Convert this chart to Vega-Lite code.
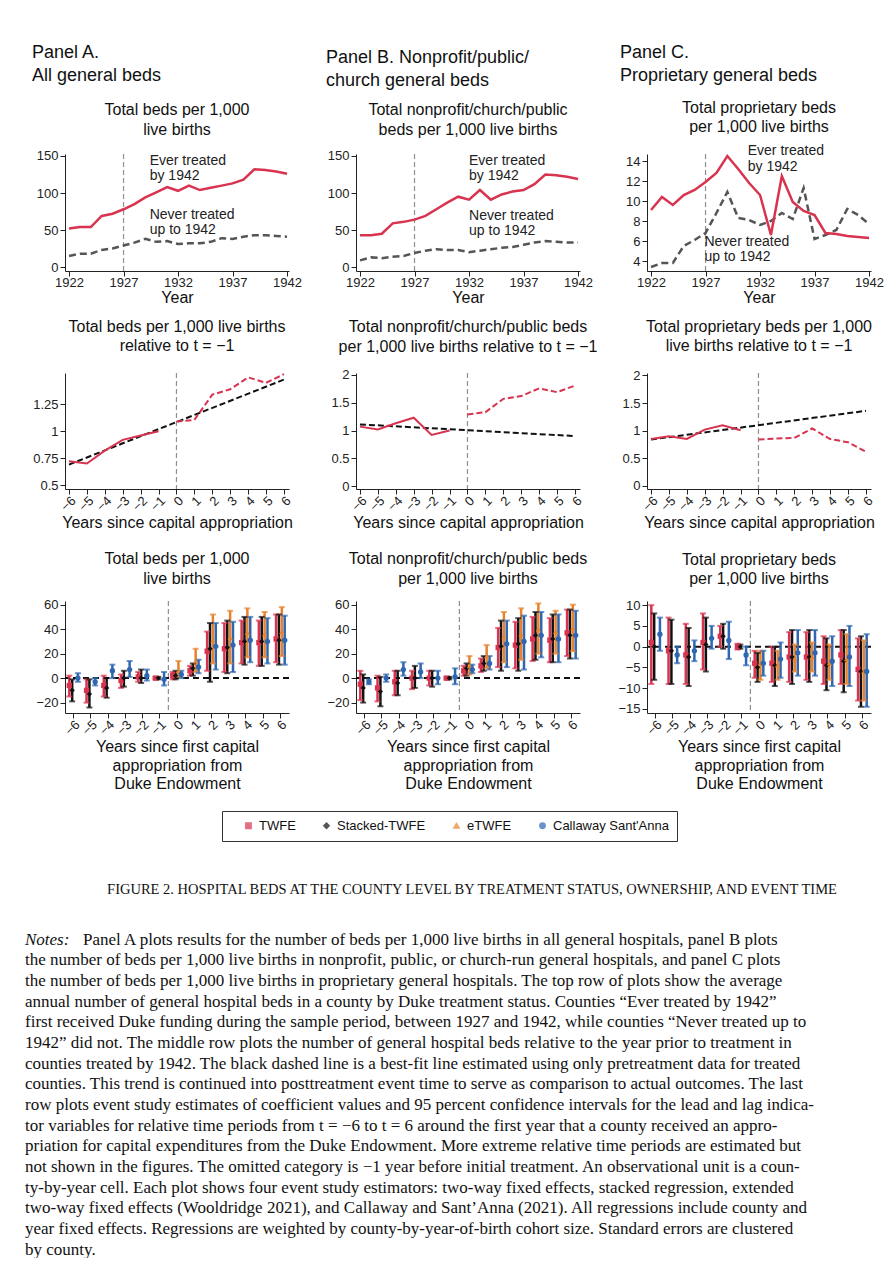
{
 "$schema": "https://vega.github.io/schema/vega-lite/v6.json",
 "background": "white",
 "padding": {"left": 25, "top": 44, "right": 0, "bottom": 0},
 "config": {
  "font": "Liberation Sans",
  "view": {"stroke": null},
  "axis": {"grid": false, "domainColor": "#222", "tickColor": "#222", "tickSize": 5, "labelFontSize": 13, "labelColor": "#222", "labelPadding": 0, "titleFontSize": 16, "titleFontWeight": "normal", "titleColor": "#111", "labelOverlap": false, "titlePadding": 0},
  "axisY": {"minExtent": 40, "maxExtent": 40, "labelPadding": 2},
  "title": {"fontSize": 16, "fontWeight": "normal", "color": "#111", "lineHeight": 19.5, "frame": "group"}
 },
 "datasets": {
  "hdr": [
   {"p": "A", "text": ["Panel A.", "All general beds"]},
   {"p": "B", "text": ["Panel B. Nonprofit/public/", "church general beds"]},
   {"p": "C", "text": ["Panel C.", "Proprietary general beds"]}
  ],
  "top": [
   {"p":"A","year":1922,"ever":52,"never":15},{"p":"A","year":1923,"ever":54,"never":18},{"p":"A","year":1924,"ever":54,"never":18},{"p":"A","year":1925,"ever":69,"never":23},{"p":"A","year":1926,"ever":72,"never":25},{"p":"A","year":1927,"ever":78,"never":29},{"p":"A","year":1928,"ever":85,"never":33},{"p":"A","year":1929,"ever":94,"never":38},{"p":"A","year":1930,"ever":101,"never":34},{"p":"A","year":1931,"ever":108,"never":35},{"p":"A","year":1932,"ever":103,"never":31},{"p":"A","year":1933,"ever":110,"never":32},{"p":"A","year":1934,"ever":104,"never":32},{"p":"A","year":1935,"ever":107,"never":34},{"p":"A","year":1936,"ever":110,"never":39},{"p":"A","year":1937,"ever":113,"never":38},{"p":"A","year":1938,"ever":118,"never":41},{"p":"A","year":1939,"ever":132,"never":43},{"p":"A","year":1940,"ever":131,"never":43},{"p":"A","year":1941,"ever":129,"never":42},{"p":"A","year":1942,"ever":126,"never":41},
   {"p":"B","year":1922,"ever":43,"never":9},{"p":"B","year":1923,"ever":43,"never":13},{"p":"B","year":1924,"ever":45,"never":12},{"p":"B","year":1925,"ever":59,"never":14},{"p":"B","year":1926,"ever":61,"never":15},{"p":"B","year":1927,"ever":64,"never":19},{"p":"B","year":1928,"ever":69,"never":22},{"p":"B","year":1929,"ever":78,"never":24},{"p":"B","year":1930,"ever":87,"never":23},{"p":"B","year":1931,"ever":95,"never":23},{"p":"B","year":1932,"ever":91,"never":20},{"p":"B","year":1933,"ever":104,"never":22},{"p":"B","year":1934,"ever":91,"never":24},{"p":"B","year":1935,"ever":98,"never":26},{"p":"B","year":1936,"ever":102,"never":27},{"p":"B","year":1937,"ever":104,"never":30},{"p":"B","year":1938,"ever":112,"never":33},{"p":"B","year":1939,"ever":125,"never":35},{"p":"B","year":1940,"ever":124,"never":34},{"p":"B","year":1941,"ever":122,"never":33},{"p":"B","year":1942,"ever":119,"never":33},
   {"p":"C","year":1922,"ever":9.1,"never":3.4},{"p":"C","year":1923,"ever":10.4,"never":3.8},{"p":"C","year":1924,"ever":9.6,"never":3.8},{"p":"C","year":1925,"ever":10.6,"never":5.5},{"p":"C","year":1926,"ever":11.1,"never":6.1},{"p":"C","year":1927,"ever":11.9,"never":6.8},{"p":"C","year":1928,"ever":12.8,"never":8.8},{"p":"C","year":1929,"ever":14.5,"never":10.9},{"p":"C","year":1930,"ever":13.2,"never":8.3},{"p":"C","year":1931,"ever":11.8,"never":8.1},{"p":"C","year":1932,"ever":10.6,"never":7.6},{"p":"C","year":1933,"ever":6.6,"never":8.0},{"p":"C","year":1934,"ever":12.5,"never":8.8},{"p":"C","year":1935,"ever":9.9,"never":8.2},{"p":"C","year":1936,"ever":9.0,"never":11.3},{"p":"C","year":1937,"ever":8.6,"never":6.2},{"p":"C","year":1938,"ever":6.8,"never":6.6},{"p":"C","year":1939,"ever":6.7,"never":7.1},{"p":"C","year":1940,"ever":6.5,"never":9.2},{"p":"C","year":1941,"ever":6.4,"never":8.6},{"p":"C","year":1942,"ever":6.3,"never":7.7}
  ],
  "rel": [
   {"p":"A","t":-6,"v":0.72},{"p":"A","t":-5,"v":0.70},{"p":"A","t":-4,"v":0.82},{"p":"A","t":-3,"v":0.92},{"p":"A","t":-2,"v":0.96},{"p":"A","t":-1,"v":1.0},{"p":"A","t":0,"v":1.09},{"p":"A","t":1,"v":1.105},{"p":"A","t":2,"v":1.34},{"p":"A","t":3,"v":1.39},{"p":"A","t":4,"v":1.50},{"p":"A","t":5,"v":1.45},{"p":"A","t":6,"v":1.53},
   {"p":"B","t":-6,"v":1.07},{"p":"B","t":-5,"v":1.02},{"p":"B","t":-4,"v":1.13},{"p":"B","t":-3,"v":1.23},{"p":"B","t":-2,"v":0.92},{"p":"B","t":-1,"v":1.0},{"p":"B","t":0,"v":1.29},{"p":"B","t":1,"v":1.33},{"p":"B","t":2,"v":1.57},{"p":"B","t":3,"v":1.62},{"p":"B","t":4,"v":1.76},{"p":"B","t":5,"v":1.69},{"p":"B","t":6,"v":1.81},
   {"p":"C","t":-6,"v":0.85},{"p":"C","t":-5,"v":0.90},{"p":"C","t":-4,"v":0.85},{"p":"C","t":-3,"v":1.02},{"p":"C","t":-2,"v":1.10},{"p":"C","t":-1,"v":1.01},{"p":"C","t":0,"v":0.84},{"p":"C","t":1,"v":0.86},{"p":"C","t":2,"v":0.87},{"p":"C","t":3,"v":1.04},{"p":"C","t":4,"v":0.85},{"p":"C","t":5,"v":0.79},{"p":"C","t":6,"v":0.62}
  ],
  "fit": [
   {"p":"A","t":-6,"v":0.69},{"p":"A","t":6,"v":1.48},
   {"p":"B","t":-6,"v":1.11},{"p":"B","t":6,"v":0.90},
   {"p":"C","t":-6,"v":0.84},{"p":"C","t":6,"v":1.36}
  ],
  "es": [
   {"p":"A","t":-6,"e":"TWFE","b":-6,"lo":-15,"hi":2},{"p":"A","t":-6,"e":"Stacked-TWFE","b":-10,"lo":-19,"hi":-1},{"p":"A","t":-6,"e":"Callaway Sant'Anna","b":0,"lo":-3,"hi":4},
   {"p":"A","t":-5,"e":"TWFE","b":-10,"lo":-20,"hi":-1},{"p":"A","t":-5,"e":"Stacked-TWFE","b":-13,"lo":-24,"hi":-1},{"p":"A","t":-5,"e":"Callaway Sant'Anna","b":-3,"lo":-6,"hi":0},
   {"p":"A","t":-4,"e":"TWFE","b":-6,"lo":-15,"hi":2},{"p":"A","t":-4,"e":"Stacked-TWFE","b":-8,"lo":-16,"hi":0},{"p":"A","t":-4,"e":"Callaway Sant'Anna","b":6,"lo":0,"hi":11},
   {"p":"A","t":-3,"e":"TWFE","b":-2,"lo":-8,"hi":3},{"p":"A","t":-3,"e":"Stacked-TWFE","b":0,"lo":-7,"hi":6},{"p":"A","t":-3,"e":"Callaway Sant'Anna","b":7,"lo":1,"hi":14},
   {"p":"A","t":-2,"e":"TWFE","b":1,"lo":-3,"hi":5},{"p":"A","t":-2,"e":"Stacked-TWFE","b":0,"lo":-4,"hi":7},{"p":"A","t":-2,"e":"Callaway Sant'Anna","b":2,"lo":-2,"hi":7},
   {"p":"A","t":-1,"e":"TWFE","b":0,"lo":-1,"hi":1},{"p":"A","t":-1,"e":"Stacked-TWFE","b":0,"lo":-1,"hi":1},{"p":"A","t":-1,"e":"Callaway Sant'Anna","b":-1,"lo":-6,"hi":5},
   {"p":"A","t":0,"e":"TWFE","b":2,"lo":-1,"hi":5},{"p":"A","t":0,"e":"Stacked-TWFE","b":2,"lo":-1,"hi":6},{"p":"A","t":0,"e":"eTWFE","b":6,"lo":1,"hi":14},{"p":"A","t":0,"e":"Callaway Sant'Anna","b":3,"lo":0,"hi":6},
   {"p":"A","t":1,"e":"TWFE","b":6,"lo":2,"hi":10},{"p":"A","t":1,"e":"Stacked-TWFE","b":8,"lo":2,"hi":12},{"p":"A","t":1,"e":"eTWFE","b":14,"lo":5,"hi":24},{"p":"A","t":1,"e":"Callaway Sant'Anna","b":9,"lo":4,"hi":15},
   {"p":"A","t":2,"e":"TWFE","b":22,"lo":6,"hi":38},{"p":"A","t":2,"e":"Stacked-TWFE","b":24,"lo":-3,"hi":45},{"p":"A","t":2,"e":"eTWFE","b":31,"lo":12,"hi":52},{"p":"A","t":2,"e":"Callaway Sant'Anna","b":26,"lo":7,"hi":45},
   {"p":"A","t":3,"e":"TWFE","b":24,"lo":5,"hi":45},{"p":"A","t":3,"e":"Stacked-TWFE","b":25,"lo":4,"hi":47},{"p":"A","t":3,"e":"eTWFE","b":33,"lo":12,"hi":55},{"p":"A","t":3,"e":"Callaway Sant'Anna","b":27,"lo":5,"hi":46},
   {"p":"A","t":4,"e":"TWFE","b":29,"lo":12,"hi":47},{"p":"A","t":4,"e":"Stacked-TWFE","b":30,"lo":11,"hi":50},{"p":"A","t":4,"e":"eTWFE","b":37,"lo":17,"hi":57},{"p":"A","t":4,"e":"Callaway Sant'Anna","b":31,"lo":13,"hi":50},
   {"p":"A","t":5,"e":"TWFE","b":29,"lo":10,"hi":47},{"p":"A","t":5,"e":"Stacked-TWFE","b":30,"lo":10,"hi":50},{"p":"A","t":5,"e":"eTWFE","b":36,"lo":17,"hi":54},{"p":"A","t":5,"e":"Callaway Sant'Anna","b":30,"lo":12,"hi":49},
   {"p":"A","t":6,"e":"TWFE","b":32,"lo":13,"hi":52},{"p":"A","t":6,"e":"Stacked-TWFE","b":31,"lo":11,"hi":52},{"p":"A","t":6,"e":"eTWFE","b":38,"lo":18,"hi":58},{"p":"A","t":6,"e":"Callaway Sant'Anna","b":31,"lo":11,"hi":51},
   {"p":"B","t":-6,"e":"TWFE","b":-5,"lo":-18,"hi":6},{"p":"B","t":-6,"e":"Stacked-TWFE","b":-8,"lo":-20,"hi":3},{"p":"B","t":-6,"e":"Callaway Sant'Anna","b":-3,"lo":-5,"hi":-1},
   {"p":"B","t":-5,"e":"TWFE","b":-8,"lo":-19,"hi":2},{"p":"B","t":-5,"e":"Stacked-TWFE","b":-11,"lo":-23,"hi":1},{"p":"B","t":-5,"e":"Callaway Sant'Anna","b":0,"lo":-3,"hi":3},
   {"p":"B","t":-4,"e":"TWFE","b":-3,"lo":-14,"hi":6},{"p":"B","t":-4,"e":"Stacked-TWFE","b":-4,"lo":-14,"hi":6},{"p":"B","t":-4,"e":"Callaway Sant'Anna","b":7,"lo":2,"hi":13},
   {"p":"B","t":-3,"e":"TWFE","b":0,"lo":-9,"hi":6},{"p":"B","t":-3,"e":"Stacked-TWFE","b":0,"lo":-8,"hi":10},{"p":"B","t":-3,"e":"Callaway Sant'Anna","b":5,"lo":0,"hi":12},
   {"p":"B","t":-2,"e":"TWFE","b":0,"lo":-6,"hi":6},{"p":"B","t":-2,"e":"Stacked-TWFE","b":0,"lo":-7,"hi":6},{"p":"B","t":-2,"e":"Callaway Sant'Anna","b":0,"lo":-5,"hi":6},
   {"p":"B","t":-1,"e":"TWFE","b":0,"lo":-1,"hi":1},{"p":"B","t":-1,"e":"Stacked-TWFE","b":0,"lo":-1,"hi":1},{"p":"B","t":-1,"e":"Callaway Sant'Anna","b":1,"lo":-5,"hi":8},
   {"p":"B","t":0,"e":"TWFE","b":6,"lo":2,"hi":10},{"p":"B","t":0,"e":"Stacked-TWFE","b":8,"lo":2,"hi":12},{"p":"B","t":0,"e":"eTWFE","b":10,"lo":3,"hi":18},{"p":"B","t":0,"e":"Callaway Sant'Anna","b":7,"lo":4,"hi":11},
   {"p":"B","t":1,"e":"TWFE","b":10,"lo":5,"hi":16},{"p":"B","t":1,"e":"Stacked-TWFE","b":12,"lo":6,"hi":18},{"p":"B","t":1,"e":"eTWFE","b":18,"lo":8,"hi":27},{"p":"B","t":1,"e":"Callaway Sant'Anna","b":12,"lo":7,"hi":18},
   {"p":"B","t":2,"e":"TWFE","b":25,"lo":9,"hi":41},{"p":"B","t":2,"e":"Stacked-TWFE","b":26,"lo":6,"hi":47},{"p":"B","t":2,"e":"eTWFE","b":34,"lo":13,"hi":54},{"p":"B","t":2,"e":"Callaway Sant'Anna","b":28,"lo":9,"hi":47},
   {"p":"B","t":3,"e":"TWFE","b":27,"lo":8,"hi":46},{"p":"B","t":3,"e":"Stacked-TWFE","b":28,"lo":6,"hi":49},{"p":"B","t":3,"e":"eTWFE","b":36,"lo":15,"hi":57},{"p":"B","t":3,"e":"Callaway Sant'Anna","b":30,"lo":7,"hi":51},
   {"p":"B","t":4,"e":"TWFE","b":32,"lo":14,"hi":50},{"p":"B","t":4,"e":"Stacked-TWFE","b":35,"lo":15,"hi":54},{"p":"B","t":4,"e":"eTWFE","b":40,"lo":20,"hi":61},{"p":"B","t":4,"e":"Callaway Sant'Anna","b":35,"lo":17,"hi":54},
   {"p":"B","t":5,"e":"TWFE","b":31,"lo":13,"hi":49},{"p":"B","t":5,"e":"Stacked-TWFE","b":32,"lo":13,"hi":52},{"p":"B","t":5,"e":"eTWFE","b":38,"lo":20,"hi":55},{"p":"B","t":5,"e":"Callaway Sant'Anna","b":32,"lo":13,"hi":52},
   {"p":"B","t":6,"e":"TWFE","b":37,"lo":18,"hi":56},{"p":"B","t":6,"e":"Stacked-TWFE","b":35,"lo":16,"hi":56},{"p":"B","t":6,"e":"eTWFE","b":41,"lo":22,"hi":60},{"p":"B","t":6,"e":"Callaway Sant'Anna","b":35,"lo":16,"hi":55},
   {"p":"C","t":-6,"e":"TWFE","b":1,"lo":-9,"hi":10},{"p":"C","t":-6,"e":"Stacked-TWFE","b":0,"lo":-8,"hi":8},{"p":"C","t":-6,"e":"Callaway Sant'Anna","b":3,"lo":-1,"hi":7},
   {"p":"C","t":-5,"e":"TWFE","b":-1,"lo":-9,"hi":7},{"p":"C","t":-5,"e":"Stacked-TWFE","b":-1,"lo":-9,"hi":6.5},{"p":"C","t":-5,"e":"Callaway Sant'Anna","b":-2,"lo":-4,"hi":0},
   {"p":"C","t":-4,"e":"TWFE","b":-2,"lo":-9,"hi":5.5},{"p":"C","t":-4,"e":"Stacked-TWFE","b":-2.5,"lo":-9.5,"hi":4.5},{"p":"C","t":-4,"e":"Callaway Sant'Anna","b":-1,"lo":-3.5,"hi":1.5},
   {"p":"C","t":-3,"e":"TWFE","b":1,"lo":-5.5,"hi":8},{"p":"C","t":-3,"e":"Stacked-TWFE","b":0.5,"lo":-6,"hi":7},{"p":"C","t":-3,"e":"Callaway Sant'Anna","b":2,"lo":-0.5,"hi":5},
   {"p":"C","t":-2,"e":"TWFE","b":2.5,"lo":0,"hi":5},{"p":"C","t":-2,"e":"Stacked-TWFE","b":2.5,"lo":-0.5,"hi":5.5},{"p":"C","t":-2,"e":"Callaway Sant'Anna","b":1.5,"lo":-3,"hi":6},
   {"p":"C","t":-1,"e":"TWFE","b":0,"lo":-0.7,"hi":0.7},{"p":"C","t":-1,"e":"Stacked-TWFE","b":0,"lo":-0.5,"hi":0.5},{"p":"C","t":-1,"e":"Callaway Sant'Anna","b":-2,"lo":-4.5,"hi":0},
   {"p":"C","t":0,"e":"TWFE","b":-4,"lo":-7.5,"hi":-1},{"p":"C","t":0,"e":"Stacked-TWFE","b":-5,"lo":-8.5,"hi":-1.5},{"p":"C","t":0,"e":"eTWFE","b":-4,"lo":-8,"hi":-1},{"p":"C","t":0,"e":"Callaway Sant'Anna","b":-4,"lo":-7,"hi":-1},
   {"p":"C","t":1,"e":"TWFE","b":-4,"lo":-8.5,"hi":0},{"p":"C","t":1,"e":"Stacked-TWFE","b":-4.5,"lo":-9.5,"hi":0},{"p":"C","t":1,"e":"eTWFE","b":-4.5,"lo":-8,"hi":-1},{"p":"C","t":1,"e":"Callaway Sant'Anna","b":-3,"lo":-7.5,"hi":1},
   {"p":"C","t":2,"e":"TWFE","b":-2.5,"lo":-8.5,"hi":3.5},{"p":"C","t":2,"e":"Stacked-TWFE","b":-2.5,"lo":-9,"hi":4},{"p":"C","t":2,"e":"eTWFE","b":-3,"lo":-6,"hi":0.5},{"p":"C","t":2,"e":"Callaway Sant'Anna","b":-1.5,"lo":-7,"hi":4},
   {"p":"C","t":3,"e":"TWFE","b":-2.5,"lo":-8,"hi":3.5},{"p":"C","t":3,"e":"Stacked-TWFE","b":-2.5,"lo":-8.5,"hi":4},{"p":"C","t":3,"e":"eTWFE","b":-2.5,"lo":-6,"hi":1},{"p":"C","t":3,"e":"Callaway Sant'Anna","b":-1.5,"lo":-7,"hi":4},
   {"p":"C","t":4,"e":"TWFE","b":-3.5,"lo":-9,"hi":2.5},{"p":"C","t":4,"e":"Stacked-TWFE","b":-4.5,"lo":-10.5,"hi":2},{"p":"C","t":4,"e":"eTWFE","b":-4,"lo":-8,"hi":0.5},{"p":"C","t":4,"e":"Callaway Sant'Anna","b":-3.5,"lo":-9.5,"hi":2.5},
   {"p":"C","t":5,"e":"TWFE","b":-2,"lo":-9,"hi":4},{"p":"C","t":5,"e":"Stacked-TWFE","b":-3.5,"lo":-11,"hi":4},{"p":"C","t":5,"e":"eTWFE","b":-3,"lo":-9,"hi":3},{"p":"C","t":5,"e":"Callaway Sant'Anna","b":-2.5,"lo":-9.5,"hi":5},
   {"p":"C","t":6,"e":"TWFE","b":-5.5,"lo":-13,"hi":2},{"p":"C","t":6,"e":"Stacked-TWFE","b":-6,"lo":-14.5,"hi":2.5},{"p":"C","t":6,"e":"eTWFE","b":-6,"lo":-13,"hi":1.5},{"p":"C","t":6,"e":"Callaway Sant'Anna","b":-6,"lo":-14.5,"hi":3}
  ],
  "notes": [
   {"line": 1, "text": "Panel A plots results for the number of beds per 1,000 live births in all general hospitals, panel B plots"},
   {"line": 2, "text": "the number of beds per 1,000 live births in nonprofit, public, or church-run general hospitals, and panel C plots"},
   {"line": 3, "text": "the number of beds per 1,000 live births in proprietary general hospitals. The top row of plots show the average"},
   {"line": 4, "text": "annual number of general hospital beds in a county by Duke treatment status. Counties “Ever treated by 1942”"},
   {"line": 5, "text": "first received Duke funding during the sample period, between 1927 and 1942, while counties “Never treated up to"},
   {"line": 6, "text": "1942” did not. The middle row plots the number of general hospital beds relative to the year prior to treatment in"},
   {"line": 7, "text": "counties treated by 1942. The black dashed line is a best-fit line estimated using only pretreatment data for treated"},
   {"line": 8, "text": "counties. This trend is continued into posttreatment event time to serve as comparison to actual outcomes. The last"},
   {"line": 9, "text": "row plots event study estimates of coefficient values and 95 percent confidence intervals for the lead and lag indica-"},
   {"line": 10, "text": "tor variables for relative time periods from t = −6 to t = 6 around the first year that a county received an appro-"},
   {"line": 11, "text": "priation for capital expenditures from the Duke Endowment. More extreme relative time periods are estimated but"},
   {"line": 12, "text": "not shown in the figures. The omitted category is −1 year before initial treatment. An observational unit is a coun-"},
   {"line": 13, "text": "ty-by-year cell. Each plot shows four event study estimators: two-way fixed effects, stacked regression, extended"},
   {"line": 14, "text": "two-way fixed effects (Wooldridge 2021), and Callaway and Sant’Anna (2021). All regressions include county and"},
   {"line": 15, "text": "year fixed effects. Regressions are weighted by county-by-year-of-birth cohort size. Standard errors are clustered"},
   {"line": 16, "text": "by county."}
  ]
 },
 "spacing": 9,
 "vconcat": [
  {
   "width": 882, "height": 30,
   "data": {"name": "hdr"},
   "encoding": {
    "x": {"field": "p", "type": "nominal", "scale": {"type": "band", "domain": ["A", "B", "C"], "paddingInner": 0, "paddingOuter": 0}, "axis": null, "bandPosition": 0},
    "y": {"datum": 0, "type": "quantitative", "scale": {"domain": [0, 1], "reverse": true}, "axis": null},
    "text": {"field": "text"}
   },
   "layer": [
    {"transform": [{"filter": "datum.p !== 'B'"}], "mark": {"type": "text", "align": "left", "baseline": "top", "fontSize": 18, "lineHeight": 23, "dx": -33, "color": "#111"}},
    {"transform": [{"filter": "datum.p === 'B'"}], "mark": {"type": "text", "align": "left", "baseline": "top", "fontSize": 18, "lineHeight": 23, "dx": -33, "dy": 5, "color": "#111"}}
   ]
  },
  {
   "columns": 3,
   "bounds": "flush",
   "spacing": {"row": 102, "column": 67},
   "concat": [
    {
     "width": 224, "height": 117,
     "title": {"text": ["Total beds per 1,000", "live births"], "offset": 12},
     "layer": [
      {"data": {"values": [{"year": 1927}]}, "mark": {"type": "rule", "color": "#8f8f8f", "strokeDash": [5, 3], "strokeWidth": 1.2},
       "encoding": {"x": {"field": "year", "type": "quantitative", "scale": {"domain": [1921.63, 1942.18], "nice": false, "zero": false}, "axis": {"values": [1922, 1927, 1932, 1937, 1942], "tickCount": 20, "format": "d", "title": "Year", "labelFlush": false}}}},
      {"data": {"name": "top"}, "transform": [{"filter": "datum.p === 'A'"}], "mark": {"type": "line", "color": "#555555", "strokeWidth": 2.5, "strokeDash": [7, 4]},
       "encoding": {"x": {"field": "year", "type": "quantitative"}, "y": {"field": "never", "type": "quantitative", "scale": {"domain": [-5.4, 152.7], "nice": false, "zero": false}, "axis": {"values": [0, 50, 100, 150], "tickCount": 20, "format": "d", "title": null}}}},
      {"data": {"name": "top"}, "transform": [{"filter": "datum.p === 'A'"}], "mark": {"type": "line", "color": "#d8334f", "strokeWidth": 2.5},
       "encoding": {"x": {"field": "year", "type": "quantitative"}, "y": {"field": "ever", "type": "quantitative", "title": null}}},
      {"data": {"values": [{"label": ["Ever treated", "by 1942"]}]}, "mark": {"type": "text", "align": "left", "baseline": "top", "fontSize": 14, "lineHeight": 15.5, "color": "#222"},
       "encoding": {"x": {"datum": 1929.4, "type": "quantitative"}, "y": {"datum": 153, "type": "quantitative"}, "text": {"field": "label"}}},
      {"data": {"values": [{"label": ["Never treated", "up to 1942"]}]}, "mark": {"type": "text", "align": "left", "baseline": "top", "fontSize": 14, "lineHeight": 15.5, "color": "#222"},
       "encoding": {"x": {"datum": 1929.4, "type": "quantitative"}, "y": {"datum": 80, "type": "quantitative"}, "text": {"field": "label"}}}
     ]
    },
    {
     "width": 224, "height": 117,
     "title": {"text": ["Total nonprofit/church/public", "beds per 1,000 live births"], "offset": 12},
     "layer": [
      {"data": {"values": [{"year": 1927}]}, "mark": {"type": "rule", "color": "#8f8f8f", "strokeDash": [5, 3], "strokeWidth": 1.2},
       "encoding": {"x": {"field": "year", "type": "quantitative", "scale": {"domain": [1921.63, 1942.18], "nice": false, "zero": false}, "axis": {"values": [1922, 1927, 1932, 1937, 1942], "tickCount": 20, "format": "d", "title": "Year", "labelFlush": false}}}},
      {"data": {"name": "top"}, "transform": [{"filter": "datum.p === 'B'"}], "mark": {"type": "line", "color": "#555555", "strokeWidth": 2.5, "strokeDash": [7, 4]},
       "encoding": {"x": {"field": "year", "type": "quantitative"}, "y": {"field": "never", "type": "quantitative", "scale": {"domain": [-5.4, 152.7], "nice": false, "zero": false}, "axis": {"values": [0, 50, 100, 150], "tickCount": 20, "format": "d", "title": null}}}},
      {"data": {"name": "top"}, "transform": [{"filter": "datum.p === 'B'"}], "mark": {"type": "line", "color": "#d8334f", "strokeWidth": 2.5},
       "encoding": {"x": {"field": "year", "type": "quantitative"}, "y": {"field": "ever", "type": "quantitative", "title": null}}},
      {"data": {"values": [{"label": ["Ever treated", "by 1942"]}]}, "mark": {"type": "text", "align": "left", "baseline": "top", "fontSize": 14, "lineHeight": 15.5, "color": "#222"},
       "encoding": {"x": {"datum": 1932.0, "type": "quantitative"}, "y": {"datum": 153, "type": "quantitative"}, "text": {"field": "label"}}},
      {"data": {"values": [{"label": ["Never treated", "up to 1942"]}]}, "mark": {"type": "text", "align": "left", "baseline": "top", "fontSize": 14, "lineHeight": 15.5, "color": "#222"},
       "encoding": {"x": {"datum": 1932.0, "type": "quantitative"}, "y": {"datum": 78.7, "type": "quantitative"}, "text": {"field": "label"}}}
     ]
    },
    {
     "width": 224, "height": 117,
     "title": {"text": ["Total proprietary beds", "per 1,000 live births"], "offset": 9},
     "layer": [
      {"data": {"values": [{"year": 1927}]}, "mark": {"type": "rule", "color": "#8f8f8f", "strokeDash": [5, 3], "strokeWidth": 1.2},
       "encoding": {"x": {"field": "year", "type": "quantitative", "scale": {"domain": [1921.63, 1942.18], "nice": false, "zero": false}, "axis": {"values": [1922, 1927, 1932, 1937, 1942], "tickCount": 20, "format": "d", "title": "Year", "labelFlush": false}}}},
      {"data": {"name": "top"}, "transform": [{"filter": "datum.p === 'C'"}], "mark": {"type": "line", "color": "#555555", "strokeWidth": 2.5, "strokeDash": [7, 4]},
       "encoding": {"x": {"field": "year", "type": "quantitative"}, "y": {"field": "never", "type": "quantitative", "scale": {"domain": [3.0, 14.7], "nice": false, "zero": false}, "axis": {"values": [4, 6, 8, 10, 12, 14], "tickCount": 20, "format": "d", "title": null}}}},
      {"data": {"name": "top"}, "transform": [{"filter": "datum.p === 'C'"}], "mark": {"type": "line", "color": "#d8334f", "strokeWidth": 2.5},
       "encoding": {"x": {"field": "year", "type": "quantitative"}, "y": {"field": "ever", "type": "quantitative", "title": null}}},
      {"data": {"values": [{"label": ["Ever treated", "by 1942"]}]}, "mark": {"type": "text", "align": "left", "baseline": "top", "fontSize": 14, "lineHeight": 15.5, "color": "#222"},
       "encoding": {"x": {"datum": 1930.87, "type": "quantitative"}, "y": {"datum": 15.7, "type": "quantitative"}, "text": {"field": "label"}}},
      {"data": {"values": [{"label": ["Never treated", "up to 1942"]}]}, "mark": {"type": "text", "align": "left", "baseline": "top", "fontSize": 14, "lineHeight": 15.5, "color": "#222"},
       "encoding": {"x": {"datum": 1926.9, "type": "quantitative"}, "y": {"datum": 6.63, "type": "quantitative"}, "text": {"field": "label"}}}
     ]
    },
    {
     "width": 224, "height": 116,
     "title": {"text": ["Total beds per 1,000 live births", "relative to t = −1"], "offset": 16},
     "layer": [
      {"data": {"values": [{"t": 0}]}, "mark": {"type": "rule", "color": "#8f8f8f", "strokeDash": [5, 3], "strokeWidth": 1.2},
       "encoding": {"x": {"field": "t", "type": "quantitative", "scale": {"domain": [-6.22, 6.28], "nice": false, "zero": false}, "axis": {"values": [-6, -5, -4, -3, -2, -1, 0, 1, 2, 3, 4, 5, 6], "tickCount": 20, "format": "d", "labelAngle": -45, "title": ["Years since capital appropriation", ""], "titleLineHeight": 11, "titlePadding": 1, "labelFlush": false}}}},
      {"data": {"name": "fit"}, "transform": [{"filter": "datum.p === 'A'"}], "mark": {"type": "line", "color": "#111", "strokeWidth": 2, "strokeDash": [6, 3]},
       "encoding": {"x": {"field": "t", "type": "quantitative"}, "y": {"field": "v", "type": "quantitative", "scale": {"domain": [0.463, 1.541], "nice": false, "zero": false}, "axis": {"values": [0.5, 0.75, 1, 1.25], "tickCount": 20, "format": ".3~g", "title": null}}}},
      {"data": {"name": "rel"}, "transform": [{"filter": "datum.p === 'A' && datum.t < 0"}], "mark": {"type": "line", "color": "#d8334f", "strokeWidth": 2},
       "encoding": {"x": {"field": "t", "type": "quantitative"}, "y": {"field": "v", "type": "quantitative"}}},
      {"data": {"name": "rel"}, "transform": [{"filter": "datum.p === 'A' && datum.t >= 0"}], "mark": {"type": "line", "color": "#d8334f", "strokeWidth": 2, "strokeDash": [6, 3]},
       "encoding": {"x": {"field": "t", "type": "quantitative"}, "y": {"field": "v", "type": "quantitative"}}}
     ]
    },
    {
     "width": 224, "height": 116,
     "title": {"text": ["Total nonprofit/church/public beds", "per 1,000 live births relative to t = −1"], "offset": 14},
     "layer": [
      {"data": {"values": [{"t": 0}]}, "mark": {"type": "rule", "color": "#8f8f8f", "strokeDash": [5, 3], "strokeWidth": 1.2},
       "encoding": {"x": {"field": "t", "type": "quantitative", "scale": {"domain": [-6.22, 6.28], "nice": false, "zero": false}, "axis": {"values": [-6, -5, -4, -3, -2, -1, 0, 1, 2, 3, 4, 5, 6], "tickCount": 20, "format": "d", "labelAngle": -45, "title": ["Years since capital appropriation", ""], "titleLineHeight": 11, "titlePadding": 1, "labelFlush": false}}}},
      {"data": {"name": "fit"}, "transform": [{"filter": "datum.p === 'B'"}], "mark": {"type": "line", "color": "#111", "strokeWidth": 2, "strokeDash": [6, 3]},
       "encoding": {"x": {"field": "t", "type": "quantitative"}, "y": {"field": "v", "type": "quantitative", "scale": {"domain": [-0.054, 2.036], "nice": false, "zero": false}, "axis": {"values": [0, 0.5, 1, 1.5, 2], "tickCount": 20, "format": ".3~g", "title": null}}}},
      {"data": {"name": "rel"}, "transform": [{"filter": "datum.p === 'B' && datum.t < 0"}], "mark": {"type": "line", "color": "#d8334f", "strokeWidth": 2},
       "encoding": {"x": {"field": "t", "type": "quantitative"}, "y": {"field": "v", "type": "quantitative"}}},
      {"data": {"name": "rel"}, "transform": [{"filter": "datum.p === 'B' && datum.t >= 0"}], "mark": {"type": "line", "color": "#d8334f", "strokeWidth": 2, "strokeDash": [6, 3]},
       "encoding": {"x": {"field": "t", "type": "quantitative"}, "y": {"field": "v", "type": "quantitative"}}}
     ]
    },
    {
     "width": 224, "height": 116,
     "title": {"text": ["Total proprietary beds per 1,000", "live births relative to t = −1"], "offset": 15},
     "layer": [
      {"data": {"values": [{"t": 0}]}, "mark": {"type": "rule", "color": "#8f8f8f", "strokeDash": [5, 3], "strokeWidth": 1.2},
       "encoding": {"x": {"field": "t", "type": "quantitative", "scale": {"domain": [-6.22, 6.28], "nice": false, "zero": false}, "axis": {"values": [-6, -5, -4, -3, -2, -1, 0, 1, 2, 3, 4, 5, 6], "tickCount": 20, "format": "d", "labelAngle": -45, "title": ["Years since capital appropriation", ""], "titleLineHeight": 11, "titlePadding": 1, "labelFlush": false}}}},
      {"data": {"name": "fit"}, "transform": [{"filter": "datum.p === 'C'"}], "mark": {"type": "line", "color": "#111", "strokeWidth": 2, "strokeDash": [6, 3]},
       "encoding": {"x": {"field": "t", "type": "quantitative"}, "y": {"field": "v", "type": "quantitative", "scale": {"domain": [-0.055, 2.045], "nice": false, "zero": false}, "axis": {"values": [0, 0.5, 1, 1.5, 2], "tickCount": 20, "format": ".3~g", "title": null}}}},
      {"data": {"name": "rel"}, "transform": [{"filter": "datum.p === 'C' && datum.t < 0"}], "mark": {"type": "line", "color": "#d8334f", "strokeWidth": 2},
       "encoding": {"x": {"field": "t", "type": "quantitative"}, "y": {"field": "v", "type": "quantitative"}}},
      {"data": {"name": "rel"}, "transform": [{"filter": "datum.p === 'C' && datum.t >= 0"}], "mark": {"type": "line", "color": "#d8334f", "strokeWidth": 2, "strokeDash": [6, 3]},
       "encoding": {"x": {"field": "t", "type": "quantitative"}, "y": {"field": "v", "type": "quantitative"}}}
     ]
    }
   ]
  },
  {
   "bounds": "flush",
   "spacing": 67,
   "hconcat": [
    {
     "width": 224, "height": 112,
     "title": {"text": ["Total beds per 1,000", "live births"], "offset": 12},
     "layer": [
      {"data": {"values": [{"t": 0}]}, "mark": {"type": "rule", "color": "#8f8f8f", "strokeDash": [5, 3], "strokeWidth": 1.2},
       "encoding": {"x": {"field": "t", "type": "ordinal", "bandPosition": 0, "scale": {"type": "band", "domain": [-6, -5, -4, -3, -2, -1, 0, 1, 2, 3, 4, 5, 6], "paddingInner": 0, "paddingOuter": 0}, "axis": {"labelAngle": -45, "labelExpr": "replace(datum.label, '-', '−')", "title": ["Years since first capital", "appropriation from", "Duke Endowment"], "titleLineHeight": 18.5, "titlePadding": 1}}}},
      {"data": {"values": [{"b": 0}]}, "mark": {"type": "rule", "color": "#111", "strokeDash": [6, 4], "strokeWidth": 2},
       "encoding": {"y": {"field": "b", "type": "quantitative", "scale": {"domain": [-28.5, 63], "nice": false, "zero": false}, "axis": {"values": [-20, 0, 20, 40, 60], "tickCount": 20, "title": null}}}},
      {"data": {"name": "es"}, "transform": [{"filter": "datum.p === 'A'"}], "mark": {"type": "rule", "strokeWidth": 2.5},
       "encoding": {"x": {"field": "t", "type": "ordinal"}, "xOffset": {"field": "e", "type": "nominal", "scale": {"domain": ["TWFE", "Stacked-TWFE", "eTWFE", "Callaway Sant'Anna"], "paddingOuter": 1, "paddingInner": 0}},
        "y": {"field": "lo", "type": "quantitative"}, "y2": {"field": "hi"},
        "color": {"field": "e", "type": "nominal", "scale": {"domain": ["TWFE", "Stacked-TWFE", "eTWFE", "Callaway Sant'Anna"], "range": ["#d8334f", "#111111", "#e8822c", "#2e66b1"]}, "legend": {"orient": "none", "legendX": 157, "legendY": 767, "direction": "horizontal", "title": "iiii", "titleOpacity": 0, "titleOrient": "left", "titlePadding": 0, "titleFontSize": 13, "titleFontWeight": "normal", "strokeColor": "#333", "padding": 8, "labelFontSize": 13, "symbolSize": 28, "columnPadding": 24, "labelColor": "#111"}}}},
      {"data": {"name": "es"}, "transform": [{"filter": "datum.p === 'A'"}], "mark": {"type": "tick", "orient": "horizontal", "thickness": 2},
       "encoding": {"x": {"field": "t", "type": "ordinal"}, "xOffset": {"field": "e", "type": "nominal"}, "y": {"field": "lo", "type": "quantitative"}, "size": {"value": 6}, "color": {"field": "e", "type": "nominal"}}},
      {"data": {"name": "es"}, "transform": [{"filter": "datum.p === 'A'"}], "mark": {"type": "tick", "orient": "horizontal", "thickness": 2},
       "encoding": {"x": {"field": "t", "type": "ordinal"}, "xOffset": {"field": "e", "type": "nominal"}, "y": {"field": "hi", "type": "quantitative"}, "size": {"value": 6}, "color": {"field": "e", "type": "nominal"}}},
      {"data": {"name": "es"}, "transform": [{"filter": "datum.p === 'A'"}], "mark": {"type": "point", "filled": true, "size": 28, "opacity": 1},
       "encoding": {"x": {"field": "t", "type": "ordinal"}, "xOffset": {"field": "e", "type": "nominal"}, "y": {"field": "b", "type": "quantitative"},
        "color": {"field": "e", "type": "nominal"},
        "shape": {"field": "e", "type": "nominal", "scale": {"domain": ["TWFE", "Stacked-TWFE", "eTWFE", "Callaway Sant'Anna"], "range": ["square", "diamond", "triangle-up", "circle"]}, "legend": {"orient": "none", "legendX": 157, "legendY": 767, "direction": "horizontal", "title": "iiii", "titleOpacity": 0, "titleOrient": "left", "titlePadding": 0, "titleFontSize": 13, "titleFontWeight": "normal", "strokeColor": "#333", "padding": 8, "labelFontSize": 13, "symbolSize": 28, "columnPadding": 24, "labelColor": "#111"}}}}
     ]
    },
    {
     "width": 224, "height": 112,
     "title": {"text": ["Total nonprofit/church/public beds", "per 1,000 live births"], "offset": 12},
     "layer": [
      {"data": {"values": [{"t": 0}]}, "mark": {"type": "rule", "color": "#8f8f8f", "strokeDash": [5, 3], "strokeWidth": 1.2},
       "encoding": {"x": {"field": "t", "type": "ordinal", "bandPosition": 0, "scale": {"type": "band", "domain": [-6, -5, -4, -3, -2, -1, 0, 1, 2, 3, 4, 5, 6], "paddingInner": 0, "paddingOuter": 0}, "axis": {"labelAngle": -45, "labelExpr": "replace(datum.label, '-', '−')", "title": ["Years since first capital", "appropriation from", "Duke Endowment"], "titleLineHeight": 18.5, "titlePadding": 1}}}},
      {"data": {"values": [{"b": 0}]}, "mark": {"type": "rule", "color": "#111", "strokeDash": [6, 4], "strokeWidth": 2},
       "encoding": {"y": {"field": "b", "type": "quantitative", "scale": {"domain": [-28.5, 63], "nice": false, "zero": false}, "axis": {"values": [-20, 0, 20, 40, 60], "tickCount": 20, "title": null}}}},
      {"data": {"name": "es"}, "transform": [{"filter": "datum.p === 'B'"}], "mark": {"type": "rule", "strokeWidth": 2.5},
       "encoding": {"x": {"field": "t", "type": "ordinal"}, "xOffset": {"field": "e", "type": "nominal"}, "y": {"field": "lo", "type": "quantitative"}, "y2": {"field": "hi"}, "color": {"field": "e", "type": "nominal"}}},
      {"data": {"name": "es"}, "transform": [{"filter": "datum.p === 'B'"}], "mark": {"type": "tick", "orient": "horizontal", "thickness": 2},
       "encoding": {"x": {"field": "t", "type": "ordinal"}, "xOffset": {"field": "e", "type": "nominal"}, "y": {"field": "lo", "type": "quantitative"}, "size": {"value": 6}, "color": {"field": "e", "type": "nominal"}}},
      {"data": {"name": "es"}, "transform": [{"filter": "datum.p === 'B'"}], "mark": {"type": "tick", "orient": "horizontal", "thickness": 2},
       "encoding": {"x": {"field": "t", "type": "ordinal"}, "xOffset": {"field": "e", "type": "nominal"}, "y": {"field": "hi", "type": "quantitative"}, "size": {"value": 6}, "color": {"field": "e", "type": "nominal"}}},
      {"data": {"name": "es"}, "transform": [{"filter": "datum.p === 'B'"}], "mark": {"type": "point", "filled": true, "size": 28, "opacity": 1},
       "encoding": {"x": {"field": "t", "type": "ordinal"}, "xOffset": {"field": "e", "type": "nominal"}, "y": {"field": "b", "type": "quantitative"}, "color": {"field": "e", "type": "nominal"}, "shape": {"field": "e", "type": "nominal"}}}
     ]
    },
    {
     "width": 224, "height": 112,
     "title": {"text": ["Total proprietary beds", "per 1,000 live births"], "offset": 12},
     "layer": [
      {"data": {"values": [{"t": 0}]}, "mark": {"type": "rule", "color": "#8f8f8f", "strokeDash": [5, 3], "strokeWidth": 1.2},
       "encoding": {"x": {"field": "t", "type": "ordinal", "bandPosition": 0, "scale": {"type": "band", "domain": [-6, -5, -4, -3, -2, -1, 0, 1, 2, 3, 4, 5, 6], "paddingInner": 0, "paddingOuter": 0}, "axis": {"labelAngle": -45, "labelExpr": "replace(datum.label, '-', '−')", "title": ["Years since first capital", "appropriation from", "Duke Endowment"], "titleLineHeight": 18.5, "titlePadding": 1}}}},
      {"data": {"values": [{"b": 0}]}, "mark": {"type": "rule", "color": "#111", "strokeDash": [6, 4], "strokeWidth": 2},
       "encoding": {"y": {"field": "b", "type": "quantitative", "scale": {"domain": [-16, 11], "nice": false, "zero": false}, "axis": {"values": [-15, -10, -5, 0, 5, 10], "tickCount": 20, "title": null}}}},
      {"data": {"name": "es"}, "transform": [{"filter": "datum.p === 'C'"}], "mark": {"type": "rule", "strokeWidth": 2.5},
       "encoding": {"x": {"field": "t", "type": "ordinal"}, "xOffset": {"field": "e", "type": "nominal"}, "y": {"field": "lo", "type": "quantitative"}, "y2": {"field": "hi"}, "color": {"field": "e", "type": "nominal"}}},
      {"data": {"name": "es"}, "transform": [{"filter": "datum.p === 'C'"}], "mark": {"type": "tick", "orient": "horizontal", "thickness": 2},
       "encoding": {"x": {"field": "t", "type": "ordinal"}, "xOffset": {"field": "e", "type": "nominal"}, "y": {"field": "lo", "type": "quantitative"}, "size": {"value": 6}, "color": {"field": "e", "type": "nominal"}}},
      {"data": {"name": "es"}, "transform": [{"filter": "datum.p === 'C'"}], "mark": {"type": "tick", "orient": "horizontal", "thickness": 2},
       "encoding": {"x": {"field": "t", "type": "ordinal"}, "xOffset": {"field": "e", "type": "nominal"}, "y": {"field": "hi", "type": "quantitative"}, "size": {"value": 6}, "color": {"field": "e", "type": "nominal"}}},
      {"data": {"name": "es"}, "transform": [{"filter": "datum.p === 'C'"}], "mark": {"type": "point", "filled": true, "size": 28, "opacity": 1},
       "encoding": {"x": {"field": "t", "type": "ordinal"}, "xOffset": {"field": "e", "type": "nominal"}, "y": {"field": "b", "type": "quantitative"}, "color": {"field": "e", "type": "nominal"}, "shape": {"field": "e", "type": "nominal"}}}
     ]
    }
   ]
  },
  {
   "width": 840, "height": 453,
   "layer": [
    {"data": {"values": [{"text": "FIGURE 2. HOSPITAL BEDS AT THE COUNTY LEVEL BY TREATMENT STATUS, OWNERSHIP, AND EVENT TIME"}]},
     "mark": {"type": "text", "align": "center", "baseline": "middle", "font": "Liberation Serif", "fontSize": 14.5, "color": "#111"},
     "encoding": {"x": {"datum": 0.4845, "type": "quantitative", "scale": {"domain": [0, 1], "nice": false, "zero": false}, "axis": null}, "y": {"datum": -1.42, "type": "quantitative", "scale": {"domain": [-5.715, 16.215], "reverse": true, "nice": false, "zero": false}, "axis": null}, "text": {"field": "text"}}},
    {"data": {"values": [{"line": 1, "text": "Notes:"}]},
     "mark": {"type": "text", "align": "left", "baseline": "middle", "font": "Liberation Serif", "fontSize": 17, "fontStyle": "italic", "dx": -40, "color": "#111"},
     "encoding": {"x": {"datum": 0, "type": "quantitative"}, "y": {"field": "line", "type": "quantitative"}, "text": {"field": "text"}}},
    {"data": {"name": "notes"}, "transform": [{"filter": "datum.line === 1"}],
     "mark": {"type": "text", "align": "left", "baseline": "middle", "font": "Liberation Serif", "fontSize": 17, "dx": 18, "color": "#111"},
     "encoding": {"x": {"datum": 0, "type": "quantitative"}, "y": {"field": "line", "type": "quantitative"}, "text": {"field": "text"}}},
    {"data": {"name": "notes"}, "transform": [{"filter": "datum.line > 1"}],
     "mark": {"type": "text", "align": "left", "baseline": "middle", "font": "Liberation Serif", "fontSize": 17, "dx": -40, "color": "#111"},
     "encoding": {"x": {"datum": 0, "type": "quantitative"}, "y": {"field": "line", "type": "quantitative"}, "text": {"field": "text"}}}
   ]
  }
 ]
}
